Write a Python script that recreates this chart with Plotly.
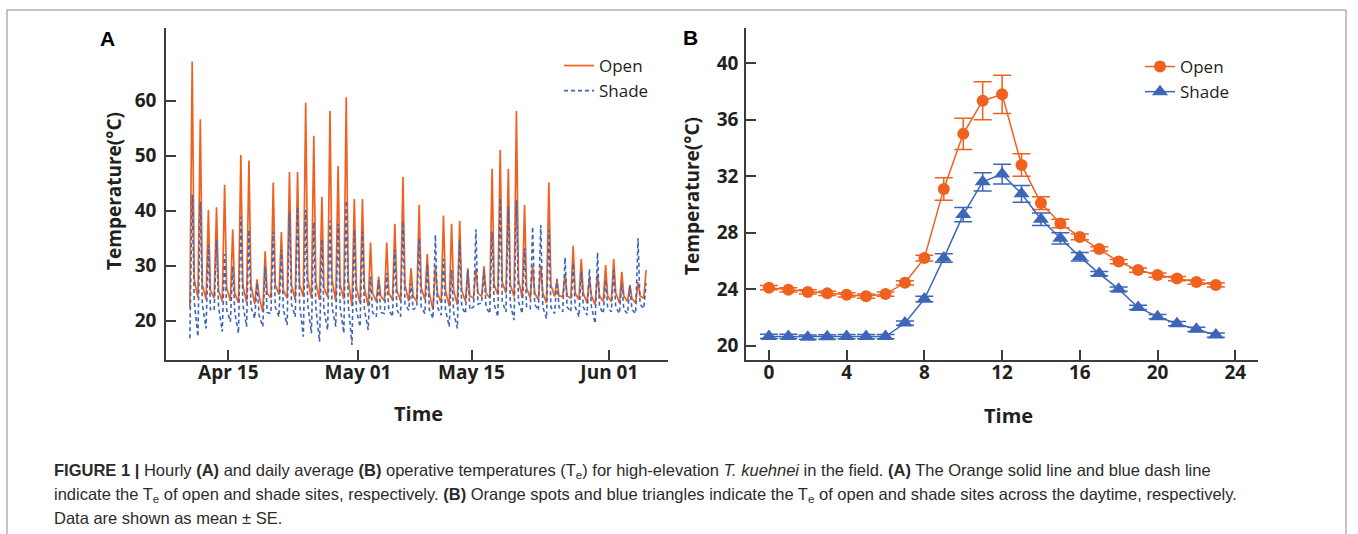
import plotly.graph_objects as go
from datetime import datetime, timedelta

# ---------------- Panel A data (hourly operative temperature, daily key points) ----------------
FIRST_DAY = "2019-04-10"
# per-day values: pre-dawn minimum, midday peak, evening value
open_min = [22.3, 24.2, 23.9, 24.1, 23.5, 23.6, 23.2, 23.3, 23.0, 21.6,
            24.1, 24.7, 24.1, 23.8, 24.4, 24.1, 23.8, 24.3, 23.5, 23.9,
            22.6, 23.2, 22.6, 23.5, 23.6, 23.8, 23.6, 23.5, 23.5, 23.8,
            22.0, 23.2, 22.6, 22.9, 23.5, 24.1, 24.4, 24.1, 24.7, 25.0,
            24.4, 24.1, 24.1, 23.8, 23.2, 24.4, 24.4, 24.1, 23.8, 23.2,
            22.9, 23.5, 23.5, 23.2, 23.5, 23.2, 24.1]
open_peak = [67.1, 56.6, 40.1, 40.6, 44.7, 36.6, 50.1, 49.1, 27.5, 32.6,
             45.1, 36.1, 47.0, 47.0, 59.6, 53.6, 42.5, 58.1, 48.1, 60.6,
             42.1, 42.1, 34.2, 28.0, 34.2, 37.6, 46.1, 29.5, 41.0, 32.1,
             29.8, 39.1, 37.6, 38.1, 29.5, 29.5, 29.9, 47.6, 51.0, 47.6,
             58.1, 41.0, 30.0, 30.0, 45.1, 27.4, 28.5, 33.6, 31.2, 28.0,
             28.5, 30.1, 31.2, 28.9, 26.5, 27.0, 29.2]
open_dusk = [27.5, 26.5, 25.5, 25.5, 26.0, 25.0, 26.5, 26.5, 24.5, 25.0,
             26.5, 25.5, 26.5, 26.5, 27.5, 27.0, 26.0, 27.5, 26.5, 27.5,
             26.0, 26.0, 25.0, 24.5, 25.0, 25.5, 26.5, 24.5, 26.0, 25.0,
             25.0, 25.5, 25.5, 25.5, 24.5, 25.0, 25.0, 26.5, 27.0, 26.5,
             27.5, 26.0, 25.0, 25.0, 26.5, 24.5, 24.5, 25.0, 25.0, 24.5,
             24.5, 24.5, 25.0, 24.5, 24.0, 24.5]
shade_min = [16.8, 17.1, 18.6, 21.9, 18.0, 19.8, 17.7, 18.9, 20.4, 18.9,
             21.3, 20.7, 19.2, 20.7, 17.1, 17.7, 16.2, 18.3, 18.9, 17.7,
             15.6, 18.9, 18.3, 20.7, 21.3, 20.7, 20.7, 21.9, 22.5, 21.3,
             20.4, 21.0, 18.9, 18.6, 21.3, 22.5, 23.2, 21.3, 20.7, 21.6,
             20.1, 21.3, 22.2, 21.9, 20.4, 21.3, 21.6, 21.6, 20.7, 21.0,
             19.5, 21.3, 21.6, 21.3, 21.3, 21.3, 22.2]
shade_peak = [42.9, 41.6, 33.8, 34.7, 32.1, 29.9, 38.9, 36.5, 26.8, 29.8,
              36.2, 32.9, 39.6, 40.7, 40.1, 37.9, 34.8, 38.2, 37.6, 41.8,
              36.5, 36.2, 28.0, 27.4, 28.7, 32.9, 38.0, 26.8, 35.0, 30.4,
              35.6, 31.2, 29.2, 34.7, 29.2, 36.6, 29.2, 36.2, 42.3, 40.7,
              41.9, 33.2, 37.1, 37.4, 36.5, 27.6, 31.5, 30.4, 28.9, 29.4,
              32.4, 27.4, 29.2, 26.8, 26.3, 35.0, 26.8]
shade_dusk = [23.5, 23.0, 22.0, 22.5, 22.0, 21.5, 23.0, 22.5, 21.0, 21.5,
              22.5, 22.0, 23.0, 23.0, 23.0, 22.5, 22.0, 22.5, 22.5, 23.0,
              22.0, 22.0, 21.5, 21.5, 22.0, 22.0, 23.0, 22.0, 22.5, 22.0,
              22.5, 22.0, 21.5, 22.5, 22.0, 23.0, 22.5, 23.0, 23.5, 23.0,
              23.5, 22.5, 23.0, 22.5, 22.5, 22.5, 22.5, 22.5, 22.5, 22.5,
              22.5, 22.5, 22.5, 22.0, 22.0, 23.0]
MIN_HOUR, PEAK_HOUR, DUSK_HOUR = 6, 13, 19
a_tickvals = ["2019-04-15", "2019-05-01", "2019-05-15", "2019-06-01"]
a_ticktext = ["Apr 15", "May 01", "May 15", "Jun 01"]
a_yticks = [20, 30, 40, 50, 60]

# ---------------- Panel B data (daily average by hour, mean ± SE) ----------------
hours = list(range(24))
open_mean = [24.1, 23.95, 23.8, 23.7, 23.6, 23.5, 23.65, 24.45, 26.2, 31.1,
             35.0, 37.35, 37.8, 32.8, 30.1, 28.65, 27.7, 26.85, 25.95, 25.35,
             25.0, 24.75, 24.5, 24.3]
open_se = [0.15, 0.15, 0.15, 0.15, 0.15, 0.15, 0.15, 0.15, 0.2, 0.8,
           1.1, 1.35, 1.35, 0.8, 0.45, 0.3, 0.2, 0.15, 0.15, 0.15,
           0.15, 0.15, 0.15, 0.15]
shade_mean = [20.65, 20.65, 20.6, 20.62, 20.64, 20.64, 20.64, 21.6, 23.3, 26.2,
              29.28, 31.6, 32.15, 30.75, 28.95, 27.6, 26.3, 25.1, 24.0, 22.7,
              22.05, 21.55, 21.15, 20.75]
shade_se = [0.15, 0.15, 0.15, 0.15, 0.15, 0.15, 0.15, 0.15, 0.2, 0.3,
            0.5, 0.65, 0.7, 0.6, 0.45, 0.4, 0.3, 0.15, 0.15, 0.15,
            0.15, 0.15, 0.15, 0.15]
b_xticks = [0, 4, 8, 12, 16, 20, 24]
b_yticks = [20, 24, 28, 32, 36, 40]

ORANGE = "#F0611F"
BLUE = "#3D66B8"
TXT = "#231F20"
AXC = "#3C3C3C"

W, H = 1358, 534


def px_x(p):
    return p / W


def px_y(p):
    return (H - p) / H


def build_series(mins, peaks, dusks):
    d0 = datetime.strptime(FIRST_DAY, "%Y-%m-%d")
    xs, ys = [], []
    for i in range(len(peaks)):
        day = d0 + timedelta(days=i)
        xs.append(day + timedelta(hours=MIN_HOUR)); ys.append(mins[i])
        xs.append(day + timedelta(hours=PEAK_HOUR)); ys.append(peaks[i])
        if i < len(dusks):
            xs.append(day + timedelta(hours=DUSK_HOUR)); ys.append(dusks[i])
    return xs, ys


ox, oy = build_series(open_min, open_peak, open_dusk)
sx, sy = build_series(shade_min, shade_peak, shade_dusk)

fig = go.Figure()
fig.add_trace(go.Scatter(x=ox, y=oy, mode="lines", name="Open",
                         line=dict(color=ORANGE, width=1.7),
                         xaxis="x", yaxis="y", legend="legend"))
fig.add_trace(go.Scatter(x=sx, y=sy, mode="lines", name="Shade",
                         line=dict(color=BLUE, width=1.6, dash="4px,3px"),
                         xaxis="x", yaxis="y", legend="legend"))

fig.add_trace(go.Scatter(x=hours, y=open_mean, mode="lines+markers", name="Open",
                         line=dict(color=ORANGE, width=1.5),
                         marker=dict(symbol="circle", size=12, color=ORANGE),
                         error_y=dict(type="data", array=open_se, color=ORANGE,
                                      thickness=1.5, width=9),
                         xaxis="x2", yaxis="y2", legend="legend2"))
fig.add_trace(go.Scatter(x=hours, y=shade_mean, mode="lines+markers", name="Shade",
                         line=dict(color=BLUE, width=1.5),
                         marker=dict(symbol="triangle-up", size=14, color=BLUE),
                         error_y=dict(type="data", array=shade_se, color=BLUE,
                                      thickness=1.5, width=9),
                         xaxis="x2", yaxis="y2", legend="legend2"))

tickfont = dict(family="Open Sans", size=19, color=TXT, weight="bold")
axis_common = dict(showline=True, linecolor=AXC, linewidth=1.6, ticks="inside",
                   ticklen=10, tickwidth=1.6, tickcolor=AXC, showgrid=False,
                   zeroline=False, tickfont=tickfont)

ydom = [px_y(360), px_y(28)]
fig.update_layout(
    width=W, height=H, autosize=False,
    margin=dict(l=0, r=0, t=0, b=0),
    paper_bgcolor="white", plot_bgcolor="white",
    showlegend=True,
    xaxis=dict(domain=[px_x(166), px_x(668)], anchor="y", type="date",
               range=["2019-04-07 07:25", "2019-06-08 05:45"],
               tickvals=a_tickvals, ticktext=a_ticktext, ticklabelstandoff=-6,
               **axis_common),
    yaxis=dict(domain=ydom, anchor="x", range=[12.85, 73.2],
               tickvals=a_yticks, ticklabelstandoff=4, **axis_common),
    xaxis2=dict(domain=[px_x(746), px_x(1258)], anchor="y2",
                range=[-1.18, 25.17], tickvals=b_xticks, ticklabelstandoff=-6,
                **axis_common),
    yaxis2=dict(domain=ydom, anchor="x2", range=[18.98, 42.5],
                tickvals=b_yticks, ticklabelstandoff=2, **axis_common),
    legend=dict(x=px_x(559), y=px_y(48), xanchor="left", yanchor="top",
                bgcolor="rgba(0,0,0,0)", font=dict(family="Open Sans", size=17, color=TXT),
                tracegroupgap=0, itemwidth=30),
    legend2=dict(x=px_x(1140), y=px_y(49), xanchor="left", yanchor="top",
                 bgcolor="rgba(0,0,0,0)", font=dict(family="Open Sans", size=17, color=TXT),
                 tracegroupgap=0, itemwidth=30),
)

ann = []
titlefont = dict(family="Open Sans", size=19, color=TXT, weight="bold")


def add_text(text, x, y, font, angle=0):
    ann.append(dict(text=text, x=px_x(x), y=px_y(y), xref="paper", yref="paper",
                    xanchor="center", yanchor="middle", textangle=angle,
                    showarrow=False, font=font))


panel_font = dict(family="Liberation Sans", size=21, color="black", weight="bold")
add_text("A", 107, 39, panel_font)
add_text("B", 690, 38, panel_font)
add_text("Temperature(°C)", 114, 191, titlefont, -90)
add_text("Temperature(°C)", 692, 196, titlefont, -90)
time_font = dict(family="Open Sans", size=20, color=TXT, weight="bold")
add_text("Time", 418, 413, time_font)
add_text("Time", 1008, 415, time_font)

cap_font = dict(family="Liberation Sans", size=16.5, color="#2B2B2B")
cap_lines = [
    "<b>FIGURE 1 |</b> Hourly <b>(A)</b> and daily average <b>(B)</b> operative temperatures (T<sub>e</sub>) for high-elevation <i>T. kuehnei</i> in the field. <b>(A)</b> The Orange solid line and blue dash line",
    "indicate the T<sub>e</sub> of open and shade sites, respectively. <b>(B)</b> Orange spots and blue triangles indicate the T<sub>e</sub> of open and shade sites across the daytime, respectively.",
    "Data are shown as mean ± SE.",
]
for t, yy in zip(cap_lines, [471, 495, 518]):
    ann.append(dict(text=t, x=px_x(52), y=px_y(yy), xref="paper", yref="paper",
                    xanchor="left", yanchor="middle", showarrow=False, align="left",
                    font=cap_font))
fig.update_layout(annotations=ann)

fig.add_shape(type="rect", xref="paper", yref="paper",
              x0=px_x(7), x1=px_x(1346), y0=-0.05, y1=px_y(10),
              line=dict(color="#8A8A8A", width=1), fillcolor="rgba(0,0,0,0)", layer="below")

fig.write_html("out.html", config={"displayModeBar": False},
               post_script="document.body.style.margin='0';document.body.style.overflow='hidden';")
